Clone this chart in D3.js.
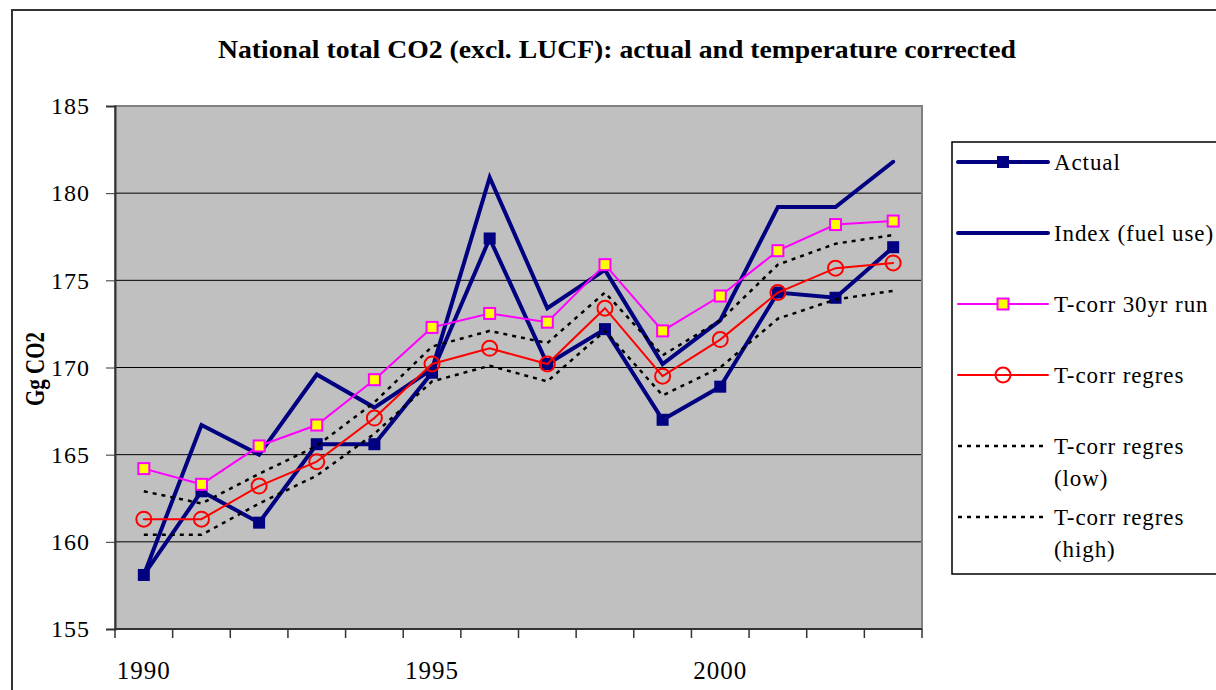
<!DOCTYPE html>
<html>
<head>
<meta charset="utf-8">
<script src="https://cdn.jsdelivr.net/npm/d3@7"></script>
<style>
  body { margin: 0; background: #fff; }
</style>
</head>
<body>
<div id="chart"></div>
<script>
var years = [1990, 1991, 1992, 1993, 1994, 1995, 1996, 1997, 1998, 1999, 2000, 2001, 2002, 2003];
var yearLabels = [1990, 1995, 2000];
var yTicks = [155, 160, 165, 170, 175, 180, 185];

var actual = [158.1, 162.9, 161.1, 165.6, 165.6, 169.7, 177.4, 170.2, 172.2, 167.0, 168.9, 174.3, 174.0, 176.9];
var indexFuel = [158.1, 166.7, 165.0, 169.6, 167.7, 169.9, 180.9, 173.4, 175.6, 170.2, 172.7, 179.2, 179.2, 181.8];
var tcorr30 = [164.2, 163.3, 165.5, 166.7, 169.3, 172.3, 173.1, 172.6, 175.9, 172.1, 174.1, 176.7, 178.2, 178.4];
var tcorrRegres = [161.3, 161.3, 163.2, 164.6, 167.1, 170.2, 171.1, 170.2, 173.4, 169.5, 171.6, 174.3, 175.7, 176.0];
var tcorrLow = [160.4, 160.4, 162.2, 163.8, 166.2, 169.2, 170.1, 169.2, 172.1, 168.4, 170.0, 172.8, 173.9, 174.4];
var tcorrHigh = [162.9, 162.2, 163.9, 165.5, 168.0, 171.2, 172.1, 171.4, 174.3, 170.7, 172.7, 175.9, 177.1, 177.6];

var series = [
  {name: ["Actual"], values: actual, color: "#000080", width: 4, marker: "navySquare"},
  {name: ["Index (fuel use)"], values: indexFuel, color: "#000080", width: 4, marker: null},
  {name: ["T-corr 30yr run"], values: tcorr30, color: "#ff00ff", width: 2, marker: "yellowSquare"},
  {name: ["T-corr regres"], values: tcorrRegres, color: "#ff0000", width: 2, marker: "circle"},
  {name: ["T-corr regres", "(low)"], values: tcorrLow, color: "#000", width: 2.5, dash: "4,5", marker: null},
  {name: ["T-corr regres", "(high)"], values: tcorrHigh, color: "#000", width: 2.5, dash: "4,5", marker: null}
];

var FONT = "Liberation Serif, Times New Roman, Tinos, serif";
var W = 1216, H = 690;
var plot = {left: 115, right: 922, top: 106, bottom: 629};

var svg = d3.select("#chart").append("svg").attr("width", W).attr("height", H)
  .attr("font-family", FONT);

// outer chart frame (runs off the picture right and bottom)
svg.append("rect").attr("x", 12).attr("y", 10).attr("width", W).attr("height", H)
  .attr("fill", "none").attr("stroke", "#333").attr("stroke-width", 2);

svg.append("text").attr("x", 617).attr("y", 58).attr("text-anchor", "middle")
  .attr("font-family", FONT).attr("font-size", 26).attr("font-weight", "bold")
  .attr("textLength", 798).attr("lengthAdjust", "spacingAndGlyphs")
  .text("National total CO2 (excl. LUCF): actual and temperature corrected");

var x = d3.scaleBand().domain(years).range([plot.left, plot.right]).padding(0);
var y = d3.scaleLinear().domain([155, 185]).range([plot.bottom, plot.top]);
var cx = function(i) { return x(years[i]) + x.bandwidth() / 2; };

svg.append("rect").attr("x", plot.left).attr("y", plot.top)
  .attr("width", plot.right - plot.left).attr("height", plot.bottom - plot.top)
  .attr("fill", "#c0c0c0");

svg.append("g").selectAll("line").data(yTicks.slice(1, -1)).enter().append("line")
  .attr("x1", plot.left).attr("x2", plot.right)
  .attr("y1", function(d) { return y(d); }).attr("y2", function(d) { return y(d); })
  .attr("stroke", "#000").attr("stroke-width", 1);

svg.append("rect").attr("x", plot.left).attr("y", plot.top)
  .attr("width", plot.right - plot.left).attr("height", plot.bottom - plot.top)
  .attr("fill", "none").attr("stroke", "#808080").attr("stroke-width", 2);

// y axis
var yAxis = svg.append("g").attr("transform", "translate(" + plot.left + ",0)")
  .call(d3.axisLeft(y).tickValues(yTicks).tickSize(9).tickPadding(16).tickFormat(d3.format("d")));
yAxis.attr("font-family", FONT).attr("font-size", 24);
yAxis.select(".domain").attr("stroke", "#333").attr("stroke-width", 2);
yAxis.selectAll(".tick line").attr("stroke", "#333");
yAxis.selectAll("text").attr("fill", "#000").attr("letter-spacing", 1);

// x axis: ticks on category boundaries, labels every fifth year
var bounds = years.map(function(d) { return x(d); }).concat([plot.right]);
svg.append("g").selectAll("line").data(bounds).enter().append("line")
  .attr("x1", function(d) { return d; }).attr("x2", function(d) { return d; })
  .attr("y1", plot.bottom).attr("y2", plot.bottom + 9)
  .attr("stroke", "#333").attr("stroke-width", 1.5);
svg.append("line").attr("x1", plot.left).attr("x2", plot.right)
  .attr("y1", plot.bottom).attr("y2", plot.bottom).attr("stroke", "#333").attr("stroke-width", 2);
svg.append("g").selectAll("text").data(yearLabels).enter().append("text")
  .attr("x", function(d) { return x(d) + x.bandwidth() / 2; }).attr("y", 679)
  .attr("text-anchor", "middle").attr("font-family", FONT).attr("font-size", 25)
  .attr("letter-spacing", 1).text(function(d) { return d; });

svg.append("text").attr("transform", "translate(44,369) rotate(-90)")
  .attr("text-anchor", "middle").attr("font-family", FONT).attr("font-size", 27).attr("font-weight", "bold")
  .attr("textLength", 74).attr("lengthAdjust", "spacingAndGlyphs")
  .text("Gg CO2");

function drawMarker(g, type, px, py) {
  if (type == "navySquare") {
    g.append("rect").attr("x", px - 6).attr("y", py - 6).attr("width", 12).attr("height", 12)
      .attr("fill", "#000080");
  } else if (type == "yellowSquare") {
    g.append("rect").attr("x", px - 5.5).attr("y", py - 5.5).attr("width", 11).attr("height", 11)
      .attr("fill", "#ffff00").attr("stroke", "#ff00ff").attr("stroke-width", 2);
  } else if (type == "circle") {
    g.append("circle").attr("cx", px).attr("cy", py).attr("r", 7.5)
      .attr("fill", "none").attr("stroke", "#ff0000").attr("stroke-width", 2);
  }
}

var line = d3.line().x(function(d, i) { return cx(i); }).y(function(d) { return y(d); });

series.forEach(function(s) {
  var g = svg.append("g");
  g.append("path").attr("d", line(s.values)).attr("fill", "none")
    .attr("stroke", s.color).attr("stroke-width", s.width)
    .attr("stroke-dasharray", s.dash || null)
    .attr("stroke-linejoin", "miter").attr("stroke-linecap", s.dash ? "butt" : "round");
  if (s.marker) {
    s.values.forEach(function(v, i) { drawMarker(g, s.marker, cx(i), y(v)); });
  }
});

// legend
var legend = svg.append("g");
legend.append("rect").attr("x", 952).attr("y", 142).attr("width", 300).attr("height", 432)
  .attr("fill", "#fff").attr("stroke", "#000").attr("stroke-width", 1.5);
var legendY = [162, 233, 304, 375, 446, 517];
series.forEach(function(s, i) {
  var ly = legendY[i];
  legend.append("line").attr("x1", 958).attr("x2", 1048).attr("y1", ly).attr("y2", ly)
    .attr("stroke", s.color).attr("stroke-width", s.width)
    .attr("stroke-dasharray", s.dash || null).attr("stroke-linecap", s.dash ? "butt" : "round");
  if (s.marker) drawMarker(legend, s.marker, 1003, ly);
  s.name.forEach(function(t, k) {
    legend.append("text").attr("x", 1054).attr("y", ly + 8 + k * 32)
      .attr("font-family", FONT).attr("font-size", 23).attr("letter-spacing", 0.9).text(t);
  });
});
</script>
</body>
</html>
